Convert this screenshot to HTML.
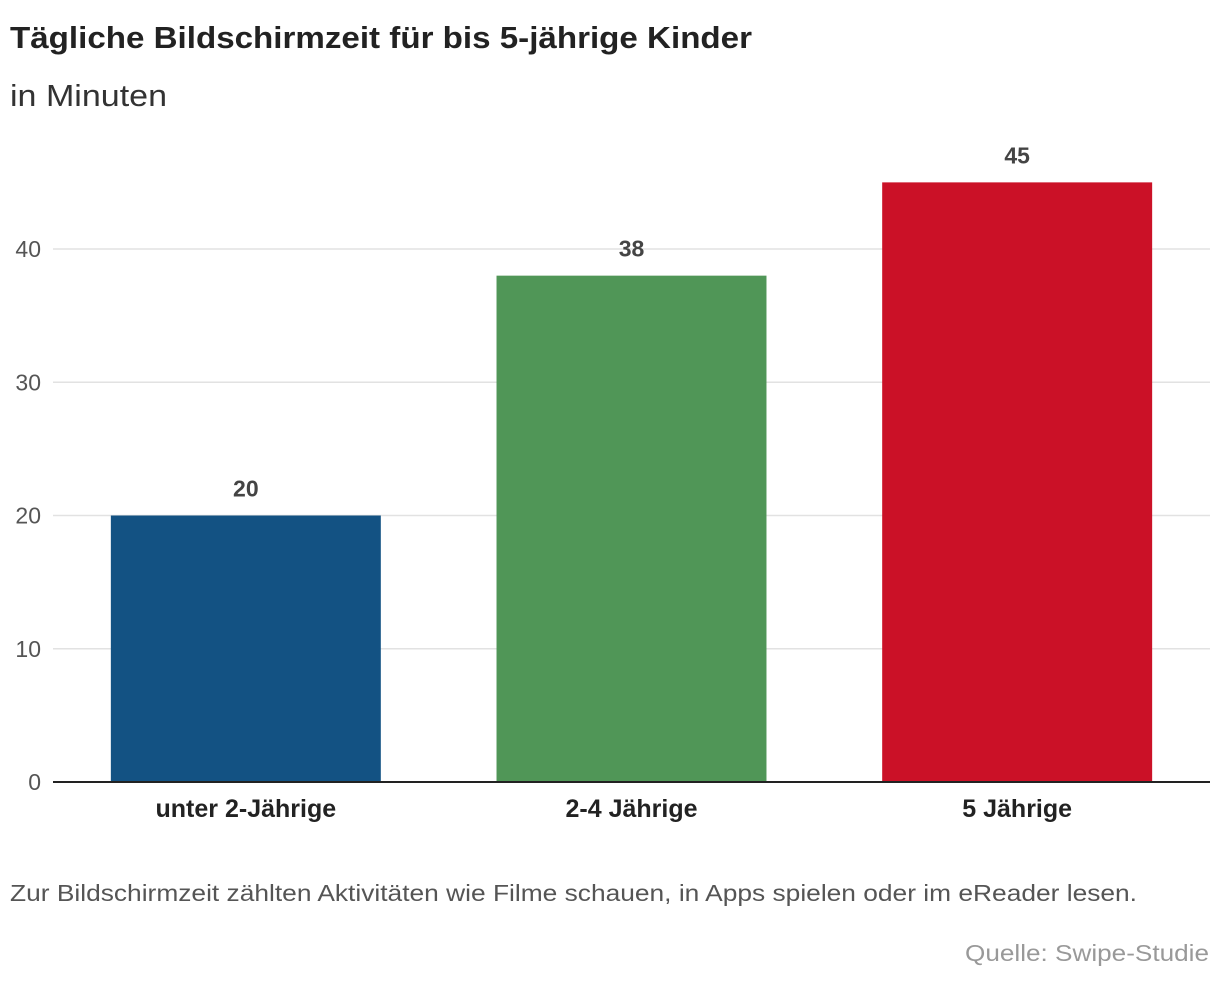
<!DOCTYPE html>
<html><head><meta charset="utf-8">
<style>
body{margin:0;background:#fff;width:1220px;height:984px;overflow:hidden;font-family:"Liberation Sans",sans-serif;}
</style></head>
<body>
<svg width="1220" height="984" xmlns="http://www.w3.org/2000/svg" font-family="Liberation Sans, sans-serif">
<text x="10" y="48" font-size="31" font-weight="bold" fill="#222" textLength="742" lengthAdjust="spacingAndGlyphs">Tägliche Bildschirmzeit für bis 5-jährige Kinder</text>
<text x="10" y="106" font-size="31" fill="#333" textLength="157" lengthAdjust="spacingAndGlyphs">in Minuten</text>
<g id="grid"></g>
<g id="bars"></g>
<text x="10" y="901" font-size="23" fill="#555" textLength="1127" lengthAdjust="spacingAndGlyphs">Zur Bildschirmzeit zählten Aktivitäten wie Filme schauen, in Apps spielen oder im eReader lesen.</text>
<text x="1209" y="961" font-size="23" fill="#999" text-anchor="end" textLength="244" lengthAdjust="spacingAndGlyphs">Quelle: Swipe-Studie</text>
</svg>
<script>
const categories=["unter 2-Jährige","2-4 Jährige","5 Jährige"];
const values=[20,38,45];
const colors=["#135283","#509657","#cb1127"];
const ticks=[0,10,20,30,40];
const NS="http://www.w3.org/2000/svg";
const x0=53,x1=1210,yBase=782,pxPerUnit=13.325;
const y=v=>yBase-v*pxPerUnit;
const band=(x1-x0)/categories.length;
const g=document.getElementById('grid'),b=document.getElementById('bars');
function mk(tag,attrs,parent,text){const e=document.createElementNS(NS,tag);for(const k in attrs)e.setAttribute(k,attrs[k]);if(text!==undefined)e.textContent=text;parent.appendChild(e);return e;}
ticks.forEach(t=>{
  if(t>0){const l=mk('line',{x1:x0,x2:x1,y1:y(t),y2:y(t),stroke:'#e2e2e2','stroke-width':1.5},g);
  
  }
  const tx=mk('text',{x:41,y:y(t)+8,'font-size':23,fill:'#555','text-anchor':'end'},g,String(t));
  
  
});
categories.forEach((c,i)=>{
  const bw=band*0.7,cx=x0+band*(i+0.5);
  const r=mk('rect',{x:cx-bw/2,y:y(values[i]),width:bw,height:yBase-y(values[i]),fill:colors[i]},b);
  
  
  const v=mk('text',{x:cx,y:y(values[i])-19,'font-size':23,'font-weight':'bold',fill:'#444','text-anchor':'middle'},b,String(values[i]));
  
  
  const cl=mk('text',{x:cx,y:817,'font-size':25,'font-weight':'bold',fill:'#222','text-anchor':'middle'},b,c);
  
  
});
const ax=mk('line',{x1:x0,x2:x1,y1:yBase,y2:yBase,stroke:'#222','stroke-width':2},b);


</script>
</body></html>
